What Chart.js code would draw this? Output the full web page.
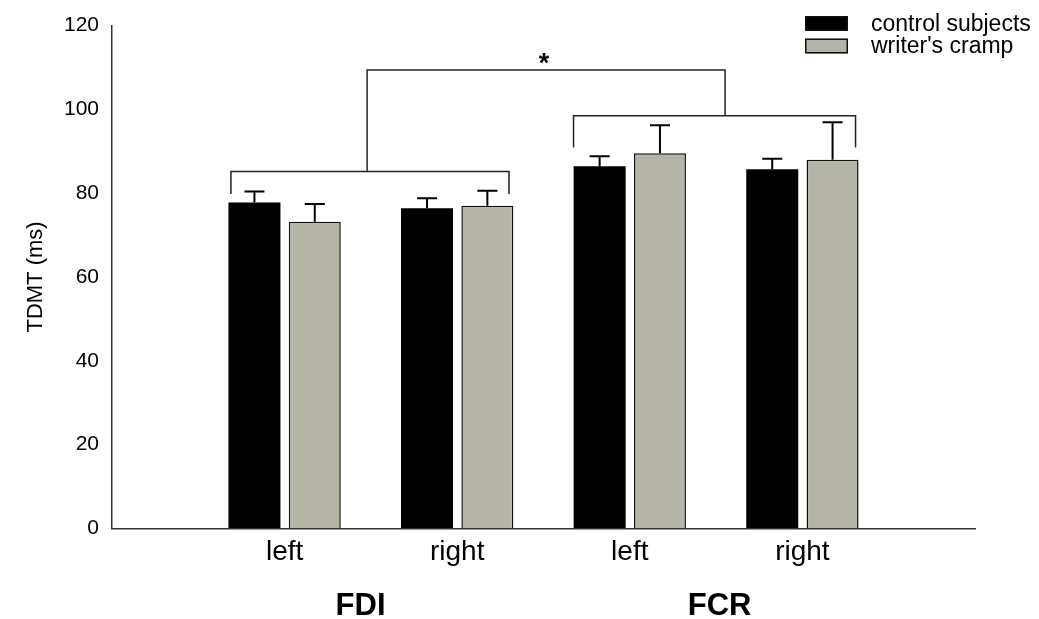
<!DOCTYPE html>
<html>
<head>
<meta charset="utf-8">
<script src="https://cdn.jsdelivr.net/npm/chart.js@4"></script>
<style>
  html, body { margin: 0; padding: 0; background: #ffffff; }
  #wrap { width: 1039px; height: 619px; }
</style>
</head>
<body>
<div id="wrap"><canvas id="c" width="1039" height="619"></canvas></div>
<script>
// Category slots: empty slots at both ends pad the axis
const categories = ['', 'left', 'right', 'left', 'right', ''];
const controlMeans = [null, 77.8, 76.4, 86.4, 85.7, null];
const controlErr   = [null, 2.6, 2.4, 2.4, 2.5, null];
const crampMeans   = [null, 73.2, 77.0, 89.5, 88.0, null];
const crampErr     = [null, 4.2, 3.6, 6.7, 8.9, null];
const seriesNames  = ['control subjects', "writer's cramp"];
const yTicks       = [0, 20, 40, 60, 80, 100, 120];

// Muscle group labels under the side labels (x in category index units)
const muscles   = ['FDI', 'FCR'];
const musclePos = [1.44, 3.52];

// Significance brackets (x in category index units, y in ms)
const groupBrackets = [
  { from: 0.689, to: 2.300, y: 85.2, drop: 79.8 },
  { from: 2.674, to: 4.308, y: 98.5, drop: 90.9 }
];
const topBracket = { from: 1.478, to: 3.552, y: 109.4, label: '*', labelAt: 2.503 };

const FONT = 'Arial, "Liberation Sans", Helvetica, sans-serif';
const BLACK = '#000000';
const GREY = '#b4b4a8';

const errorBars = {
  id: 'errorBars',
  afterDatasetsDraw(chart) {
    const ctx = chart.ctx;
    const y = chart.scales.y;
    const errs = [controlErr, crampErr];
    ctx.save();
    ctx.strokeStyle = '#000';
    ctx.lineWidth = 2;
    chart.data.datasets.forEach((ds, di) => {
      const meta = chart.getDatasetMeta(di);
      meta.data.forEach((bar, i) => {
        const v = ds.data[i];
        if (v == null) return;
        const top = y.getPixelForValue(v + errs[di][i]);
        const base = y.getPixelForValue(v);
        ctx.beginPath();
        ctx.moveTo(bar.x, base);
        ctx.lineTo(bar.x, top);
        ctx.moveTo(bar.x - 10, top);
        ctx.lineTo(bar.x + 10, top);
        ctx.stroke();
      });
    });
    ctx.restore();
  }
};

const annotations = {
  id: 'annotations',
  afterDraw(chart) {
    const ctx = chart.ctx;
    const x = chart.scales.x, y = chart.scales.y;
    ctx.save();
    ctx.strokeStyle = '#222';
    ctx.lineWidth = 1.5;
    groupBrackets.forEach(b => {
      const x0 = x.getPixelForValue(b.from), x1 = x.getPixelForValue(b.to);
      const yy = y.getPixelForValue(b.y), yd = y.getPixelForValue(b.drop);
      ctx.beginPath();
      ctx.moveTo(x0, yd); ctx.lineTo(x0, yy); ctx.lineTo(x1, yy); ctx.lineTo(x1, yd);
      ctx.stroke();
    });
    const tx0 = x.getPixelForValue(topBracket.from), tx1 = x.getPixelForValue(topBracket.to);
    const ty = y.getPixelForValue(topBracket.y);
    ctx.beginPath();
    ctx.moveTo(tx0, y.getPixelForValue(groupBrackets[0].y));
    ctx.lineTo(tx0, ty); ctx.lineTo(tx1, ty);
    ctx.lineTo(tx1, y.getPixelForValue(groupBrackets[1].y));
    ctx.stroke();

    ctx.fillStyle = '#000';
    ctx.textAlign = 'center';
    ctx.textBaseline = 'alphabetic';
    ctx.font = 'bold 27px ' + FONT;
    ctx.fillText(topBracket.label, x.getPixelForValue(topBracket.labelAt), ty + 2);

    // muscle group labels
    ctx.font = 'bold 31px ' + FONT;
    muscles.forEach((m, i) => {
      ctx.fillText(m, x.getPixelForValue(musclePos[i]), 615);
    });

    // legend
    const lx = 805, lw = 43, lh = 15;
    const rows = [16, 38.5];
    ctx.font = '23px ' + FONT;
    ctx.textAlign = 'left';
    ctx.textBaseline = 'middle';
    chart.data.datasets.forEach((ds, i) => {
      ctx.fillStyle = ds.backgroundColor;
      ctx.fillRect(lx, rows[i], lw, lh);
      ctx.strokeStyle = '#111';
      ctx.lineWidth = 1.5;
      ctx.strokeRect(lx + 0.75, rows[i] + 0.75, lw - 1.5, lh - 1.5);
      ctx.fillStyle = '#000';
      ctx.fillText(ds.label, 871, rows[i] + lh / 2 + 1);
    });
    ctx.restore();
  }
};

new Chart(document.getElementById('c'), {
  type: 'bar',
  data: {
    labels: categories,
    datasets: [
      { label: seriesNames[0], data: controlMeans, backgroundColor: BLACK, borderColor: BLACK, borderWidth: 0 },
      { label: seriesNames[1], data: crampMeans, backgroundColor: GREY, borderColor: '#111', borderWidth: 1.5 }
    ]
  },
  options: {
    responsive: false,
    animation: false,
    devicePixelRatio: 1,
    categoryPercentage: 0.699,
    barPercentage: 0.862,
    layout: { padding: { top: 22, right: 64, left: 0, bottom: 0 } },
    plugins: { legend: { display: false }, tooltip: { enabled: false } },
    scales: {
      x: {
        offset: false,
        grid: { display: false, drawTicks: false, offset: false },
        border: { display: true, color: '#333', width: 1.5 },
        ticks: { color: '#000', font: { family: FONT, size: 28 }, padding: 7, maxRotation: 0, autoSkip: false },
        afterFit(scale) { scale.height = 90.7; }
      },
      y: {
        min: 0, max: 120,
        grid: { display: false, drawTicks: false },
        border: { display: true, color: '#333', width: 1.5 },
        afterBuildTicks(scale) { scale.ticks = yTicks.map(v => ({ value: v })); },
        ticks: { color: '#000', font: { family: FONT, size: 21 }, padding: 13 },
        title: { display: true, text: 'TDMT (ms)', color: '#000', font: { family: FONT, size: 22 }, padding: { top: 23, bottom: 0 } },
        afterFit(scale) { scale.width = 112; }
      }
    }
  },
  plugins: [errorBars, annotations]
});
</script>
</body>
</html>
